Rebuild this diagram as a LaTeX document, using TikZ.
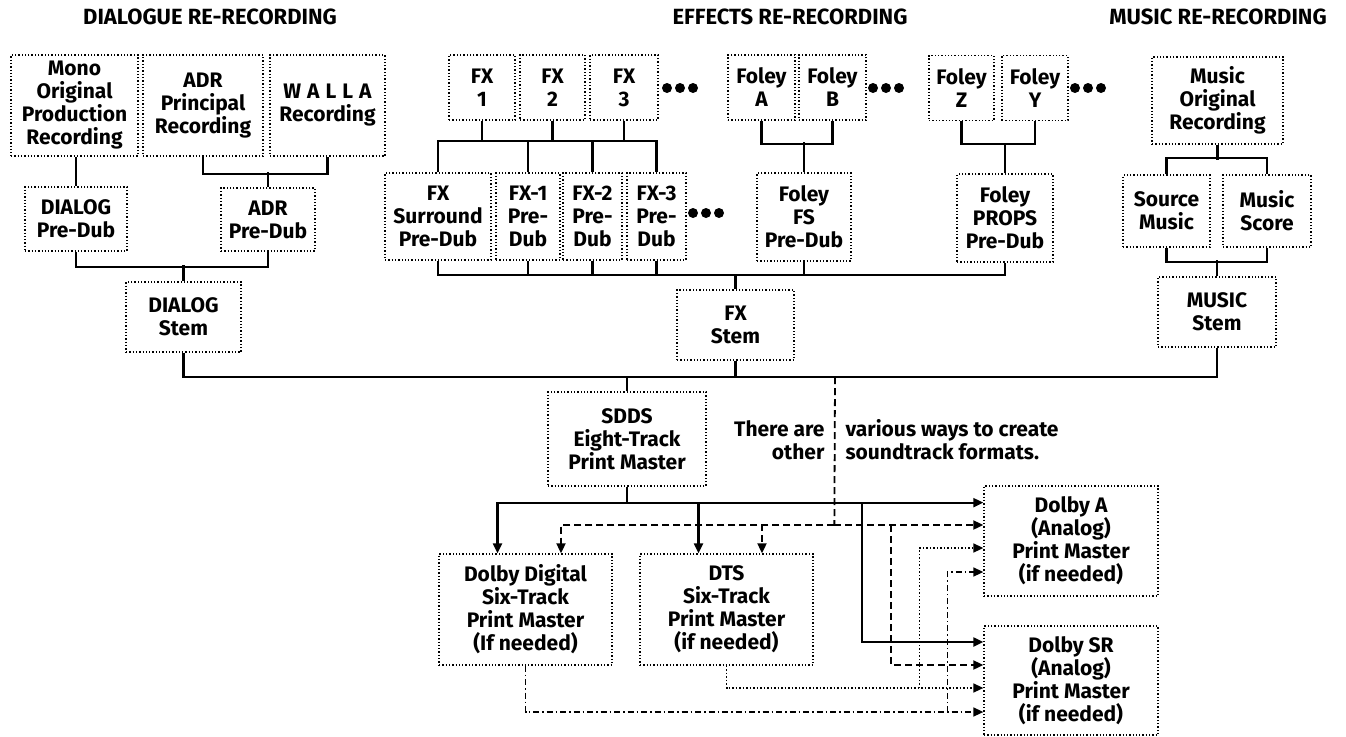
\documentclass[tikz,border=0pt]{standalone}
\usepackage{fontspec}
\setmainfont{Fira Sans}
\usetikzlibrary{calc}
\usetikzlibrary{arrows.meta}

\begin{document}
\begin{tikzpicture}[x=1pt, y=-1pt,
    box/.style={draw, dotted, line width=1.3pt, inner sep=0pt, align=center,
        font=\fontsize{21}{23}\selectfont\bfseries},
    heading/.style={font=\fontsize{21}{23}\selectfont\bfseries},
    link/.style={line width=2.1pt},
    arr/.style={-{Triangle[length=10pt,width=9pt]}},
    otherline/.style={line width=1.8pt, dash pattern=on 7pt off 4pt},
    dtsline/.style={line width=1.5pt, dash pattern=on 1.5pt off 2pt},
    ddline/.style={line width=1.5pt, dash pattern=on 6pt off 3pt on 1.5pt off 3pt}]

    \useasboundingbox (0,0) rectangle (1346,736);

    % Headings
    \node[heading, font=\fontsize{22}{24}\selectfont\bfseries] (dtitle) at (210,17) {DIALOGUE RE-RECORDING};
    \node[heading, font=\fontsize{22}{24}\selectfont\bfseries] (etitle) at (790,17) {EFFECTS RE-RECORDING};
    \node[heading, font=\fontsize{22}{24}\selectfont\bfseries] (mtitle) at (1218,17) {MUSIC RE-RECORDING};

    % Dialogue
    \node[box, minimum width=127pt, minimum height=101pt] (mono) at (74.5,105.5) {Mono\\Original\\Production\\Recording};
    \node[box, minimum width=120pt, minimum height=101pt] (adr) at (203,105.5) {ADR\\Principal\\Recording};
    \node[box, minimum width=115pt, minimum height=101pt] (walla) at (327.5,105.5) {W\kern6pt A\kern6pt L\kern6pt L\kern6pt A\\Recording};
    \node[box, minimum width=102pt, minimum height=64pt] (dialogpre) at (76,219) {DIALOG\\Pre-Dub};
    \node[box, minimum width=94pt, minimum height=63pt] (adrpre) at (268,219.5) {ADR\\Pre-Dub};
    \node[box, minimum width=115pt, minimum height=70pt] (dialogstem) at (183.5,317) {DIALOG\\Stem};

    \draw[link] (mono.south -| dialogpre.north) -- (dialogpre.north);
    \draw[link] (adr.south) -- ++(0,17) -| (walla.south);
    \draw[link] (adrpre.north) -- ++(0,-15);
    \draw[link] (dialogpre.south) -- ++(0,15) -| (adrpre.south);
    \draw[link] (dialogstem.north) -- ++(0,-16);

    % Effects
    \node[box, minimum width=66pt, minimum height=65pt] (fx1) at (482,87.5) {FX\\1};
    \node[box, minimum width=65pt, minimum height=65pt] (fx2) at (552.5,87.5) {FX\\2};
    \node[box, minimum width=68pt, minimum height=65pt] (fx3) at (624,87.5) {FX\\3};
    \node[box, minimum width=106pt, minimum height=87pt] (fxsurround) at (438,216.5) {FX\\Surround\\Pre-Dub};
    \node[box, minimum width=64pt, minimum height=87pt] (fx1pre) at (528,216.5) {FX-1\\Pre-\\Dub};
    \node[box, minimum width=59pt, minimum height=87pt] (fx2pre) at (592.5,216.5) {FX-2\\Pre-\\Dub};
    \node[box, minimum width=59pt, minimum height=87pt] (fx3pre) at (656.5,216.5) {FX-3\\Pre-\\Dub};

    \node[box, minimum width=67pt, minimum height=65pt] (foleya) at (761.5,87.5) {Foley\\A};
    \node[box, minimum width=67pt, minimum height=65pt] (foleyb) at (832.5,87.5) {Foley\\B};
    \node[box, minimum width=94pt, minimum height=88pt] (foleyfs) at (804,217) {Foley\\FS\\Pre-Dub};
    \node[box, minimum width=65pt, minimum height=65pt] (foleyz) at (961.5,88) {Foley\\Z};
    \node[box, minimum width=66pt, minimum height=65pt] (foleyy) at (1035,88) {Foley\\Y};
    \node[box, minimum width=96pt, minimum height=88pt] (foleyprops) at (1005,218) {Foley\\PROPS\\Pre-Dub};
    \node[box, minimum width=117pt, minimum height=70pt] (fxstem) at (735.5,325) {FX\\Stem};

    % more of the same
    \fill (667,88) circle[radius=5pt] (680,88) circle[radius=5pt] (693,88) circle[radius=5pt];
    \fill (693,213) circle[radius=5pt] (706,213) circle[radius=5pt] (719,213) circle[radius=5pt];
    \fill (873,88) circle[radius=5pt] (886,88) circle[radius=5pt] (899,88) circle[radius=5pt];
    \fill (1075,88) circle[radius=5pt] (1088,88) circle[radius=5pt] (1101,88) circle[radius=5pt];

    \coordinate (fxbus) at (0,141);
    \draw[link] (fxsurround.north) |- (fx3pre.north |- fxbus) -- (fx3pre.north);
    \draw[link] (fx1.south) -- (fx1.south |- fxbus);
    \draw[link] (fx2.south) -- (fx2.south |- fxbus);
    \draw[link] (fx3.south) -- (fx3.south |- fxbus);
    \draw[link] (fx1pre.north) -- (fx1pre.north |- fxbus);
    \draw[link] (fx2pre.north) -- (fx2pre.north |- fxbus);

    \draw[link] (foleya.south) -- ++(0,23) -| (foleyb.south);
    \draw[link] (foleyfs.north) -- ++(0,-30);
    \draw[link] (foleyz.south) -- ++(0,23) -| (foleyy.south);
    \draw[link] (foleyprops.north) -- ++(0,-30);

    \coordinate (prebus) at (0,275);
    \draw[link] (fxsurround.south) |- (foleyprops.south |- prebus) -- (foleyprops.south);
    \draw[link] (fx1pre.south) -- (fx1pre.south |- prebus);
    \draw[link] (fx2pre.south) -- (fx2pre.south |- prebus);
    \draw[link] (fx3pre.south) -- (fx3pre.south |- prebus);
    \draw[link] (foleyfs.south) -- (foleyfs.south |- prebus);
    \draw[link] (fxstem.north) -- (fxstem.north |- prebus);

    % Music
    \node[box, minimum width=131pt, minimum height=87pt] (musicorig) at (1217.5,100.5) {Music\\Original\\Recording};
    \node[box, minimum width=87pt, minimum height=72pt] (source) at (1166.5,211) {Source\\Music};
    \node[box, minimum width=88pt, minimum height=72pt] (score) at (1267,211) {Music\\Score};
    \node[box, minimum width=118pt, minimum height=70pt] (musicstem) at (1217,312) {MUSIC\\Stem};

    \draw[link] (musicorig.south) -- ++(0,15);
    \draw[link] (source.north) -- ++(0,-16) -| (score.north);
    \draw[link] (source.south) -- ++(0,14) -| (score.south);
    \draw[link] (musicstem.north) -- ++(0,-16);

    % Stems into the print master
    \coordinate (trunk) at (0,377);
    \draw[link] (dialogstem.south) |- (musicstem.south |- trunk) -- (musicstem.south);
    \draw[link] (fxstem.south) -- (fxstem.south |- trunk);

    \node[box, minimum width=158pt, minimum height=94pt] (sdds) at (627,439) {SDDS\\Eight-Track\\Print Master};
    \draw[link] (sdds.north) -- (sdds.north |- trunk);

    \node[heading, anchor=east, align=right] (notel) at (828,440) {There are\\other};
    \node[heading, anchor=west, align=left] (noter) at (842,440) {various ways to create\\soundtrack formats.};

    % Other print masters
    \node[box, minimum width=173pt, minimum height=111pt] (dolbydigital) at (525.5,609.5) {Dolby Digital\\Six-Track\\Print Master\\(If needed)};
    \node[box, minimum width=173pt, minimum height=111pt] (dts) at (726.5,609.5) {DTS\\Six-Track\\Print Master\\(if needed)};
    \node[box, minimum width=174pt, minimum height=110pt] (dolbya) at (1071,541) {Dolby A\\(Analog)\\Print Master\\(if needed)};
    \node[box, minimum width=174pt, minimum height=109pt] (dolbysr) at (1071,680.5) {Dolby SR\\(Analog)\\Print Master\\(if needed)};

    % solid: from SDDS
    \coordinate (sddsbus) at ($(sdds.south)+(0,16)$);
    \draw[link] (sdds.south) -- (sddsbus);
    \draw[link, arr] (sddsbus) -| ($(dolbydigital.north)+(-28,0)$);
    \draw[link, arr] (sddsbus) -| ($(dts.north)+(-28,0)$);
    \draw[link, arr] (sddsbus) -- (sddsbus -| dolbya.west);
    \draw[link, arr] ($(dolbya.west)+(-121,-39)$) |- ($(dolbysr.west)+(0,-38.5)$);

    % dashed: the other ways
    \coordinate (otherstart) at (835,377);
    \coordinate (otherbus) at ($(dolbya.west)+(-149,-16)$);
    \draw[otherline] (otherstart) -- (otherbus);
    \draw[otherline, arr] (otherbus) -| ($(dolbydigital.north)+(35.5,0)$);
    \draw[otherline, arr] ($(dts.north)+(35.5,-29)$) -- ($(dts.north)+(35.5,0)$);
    \draw[otherline, arr] (otherbus) -- (otherbus -| dolbya.west);
    \draw[otherline, arr] ($(dolbya.west)+(-92,-16)$) |- ($(dolbysr.west)+(0,-15.5)$);

    % dotted: from DTS
    \draw[dtsline, arr] (dts.south) |- ($(dolbysr.west)+(0,7.5)$);
    \draw[dtsline, arr] ($(dolbysr.west)+(-64,7.5)$) |- ($(dolbya.west)+(0,7)$);

    % dash-dot: from Dolby Digital
    \draw[ddline, arr] (dolbydigital.south) |- ($(dolbysr.west)+(0,31.5)$);
    \draw[ddline, arr] ($(dolbysr.west)+(-36,31.5)$) |- ($(dolbya.west)+(0,31)$);

\end{tikzpicture}
\end{document}
